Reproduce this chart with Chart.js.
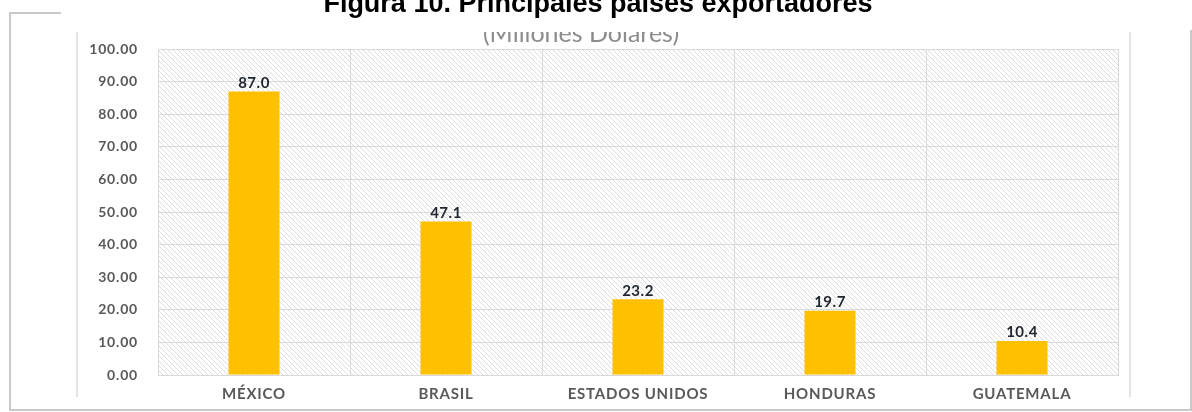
<!DOCTYPE html>
<html>
<head>
<meta charset="utf-8">
<script src="https://cdn.jsdelivr.net/npm/chart.js@4/dist/chart.umd.min.js"></script>
<style>
    html, body { margin: 0; padding: 0; background: #ffffff; }
    #wrap { width: 1192px; height: 412px; position: relative; }
</style>
</head>
<body>
<div id="wrap"><canvas id="grafico" width="1192" height="412"></canvas></div>
<script>
// Datos del gráfico
const paises = ["MÉXICO", "BRASIL", "ESTADOS UNIDOS", "HONDURAS", "GUATEMALA"];
const exportaciones = [87.0, 47.1, 23.2, 19.7, 10.4];
const ejeY = [0, 10, 20, 30, 40, 50, 60, 70, 80, 90, 100];

const titulo = "Figura 10. Principales países exportadores";
const subtitulo = "(Millones Dólares)";

// Fondo rayado del área del gráfico + marco + títulos
const fondoRayado = {
    id: "fondoRayado",
    beforeDraw(chart) {
        const ctx = chart.ctx;
        const a = chart.chartArea;
        ctx.save();
        ctx.fillStyle = "#ffffff";
        ctx.fillRect(0, 0, chart.width, chart.height);

        // marco exterior (sombra)
        ctx.strokeStyle = "#c9c9c9";
        ctx.lineWidth = 2;
        ctx.beginPath();
        ctx.moveTo(61, 13); ctx.lineTo(10, 13); ctx.lineTo(10, 410); ctx.lineTo(1191, 410); ctx.lineTo(1191, 30);
        ctx.stroke();
        // líneas interiores
        ctx.strokeStyle = "#dcdcdc";
        ctx.lineWidth = 1.5;
        ctx.beginPath();
        ctx.moveTo(77, 32); ctx.lineTo(77, 397);
        ctx.moveTo(1130, 32); ctx.lineTo(1130, 397);
        ctx.stroke();

        // rayado diagonal
        ctx.beginPath();
        ctx.rect(a.left, a.top, a.right - a.left, a.bottom - a.top);
        ctx.clip();
        ctx.strokeStyle = "#dddddd";
        ctx.lineWidth = 1;
        ctx.beginPath();
        const h = a.bottom - a.top;
        for (let x = a.left - h; x < a.right; x += 5) {
            ctx.moveTo(x, a.top);
            ctx.lineTo(x + h, a.bottom);
        }
        ctx.stroke();
        ctx.restore();

        ctx.letterSpacing = "0.8px";
    },
    afterDraw(chart) {
        const ctx = chart.ctx;
        ctx.save();
        ctx.letterSpacing = "0px";
        // subtítulo (cortado arriba)
        ctx.beginPath();
        ctx.rect(0, 32, chart.width, 16);
        ctx.clip();
        ctx.fillStyle = "#8c8c8c";
        ctx.font = "25px Lato";
        ctx.textAlign = "center";
        ctx.textBaseline = "alphabetic";
        ctx.fillText(subtitulo, 581, 42);
        ctx.restore();

        ctx.save();
        ctx.letterSpacing = "0px";
        ctx.fillStyle = "#000000";
        ctx.font = "bold 27px 'Liberation Sans'";
        ctx.textAlign = "center";
        ctx.textBaseline = "alphabetic";
        ctx.fillText(titulo, 598, 12);
        ctx.restore();
    }
};

// Etiquetas de valor sobre las barras
const etiquetasValor = {
    id: "etiquetasValor",
    afterDatasetsDraw(chart) {
        const ctx = chart.ctx;
        const meta = chart.getDatasetMeta(0);
        ctx.save();
        ctx.letterSpacing = "0.5px";
        ctx.fillStyle = "#1f2630";
        ctx.font = "bold 15px Lato";
        ctx.textAlign = "center";
        ctx.textBaseline = "bottom";
        meta.data.forEach((bar, i) => {
            ctx.fillText(exportaciones[i].toFixed(1), bar.x, bar.y - 1);
        });
        ctx.restore();
    }
};

new Chart(document.getElementById("grafico"), {
    type: "bar",
    data: {
        labels: paises,
        datasets: [{
            data: exportaciones,
            backgroundColor: "#FFC000",
            borderWidth: 0,
            barPercentage: 0.266,
            categoryPercentage: 1.0
        }]
    },
    options: {
        responsive: false,
        animation: false,
        layout: { padding: { top: 49, right: 74, left: 0, bottom: 0 } },
        plugins: {
            legend: { display: false },
            tooltip: { enabled: false }
        },
        scales: {
            x: {
                grid: { color: "#d9d9d9", lineWidth: 1, drawTicks: false, offset: true },
                border: { color: "#d9d9d9" },
                ticks: {
                    color: "#595959",
                    font: { family: "Lato", size: 15, weight: "bold" },
                    padding: 10
                },
                afterFit(scale) { scale.height = 37; }
            },
            y: {
                min: ejeY[0],
                max: ejeY[ejeY.length - 1],
                afterBuildTicks(scale) { scale.ticks = ejeY.map(v => ({ value: v })); },
                grid: { color: "#d9d9d9", lineWidth: 1, drawTicks: false },
                border: { color: "#d9d9d9" },
                ticks: {
                    color: "#595959",
                    font: { family: "Lato", size: 14, weight: "bold" },
                    padding: 20,
                    callback: v => Number(v).toFixed(2)
                },
                afterFit(scale) { scale.width = 158; }
            }
        }
    },
    plugins: [fondoRayado, etiquetasValor]
});
</script>
</body>
</html>
